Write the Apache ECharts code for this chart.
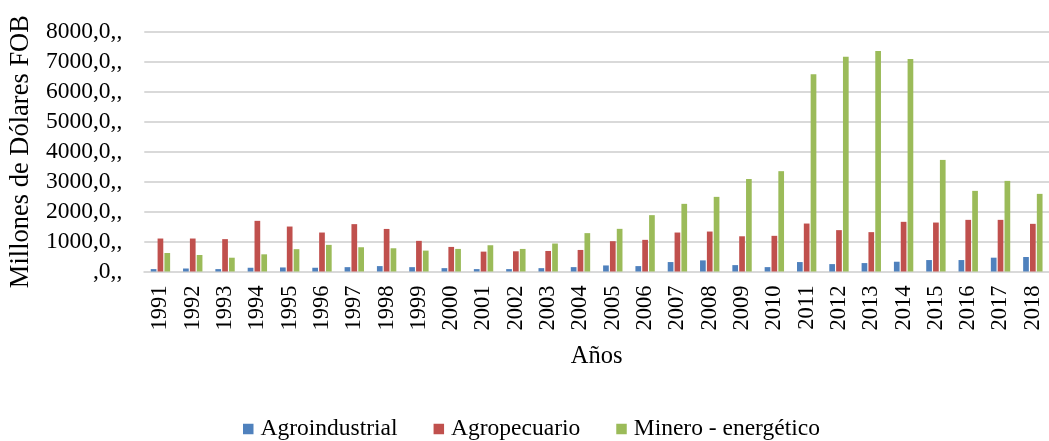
<!DOCTYPE html>
<html>
<head>
<meta charset="utf-8">
<script src="https://cdn.jsdelivr.net/npm/echarts@6/dist/echarts.min.js"></script>
<style>
  html, body { margin: 0; padding: 0; background: #fff; }
  #chart { width: 1049px; height: 441px; }
</style>
</head>
<body>
<div id="chart"></div>
<script>
// Exportaciones por sector, millones de dólares FOB
const years = ['1991', '1992', '1993', '1994', '1995', '1996', '1997', '1998', '1999', '2000',
  '2001', '2002', '2003', '2004', '2005', '2006', '2007', '2008', '2009', '2010',
  '2011', '2012', '2013', '2014', '2015', '2016', '2017', '2018']
const agroindustrial = [80, 100, 80, 125, 135, 125, 145, 180, 145, 112,
  80, 80, 112, 146, 202, 180, 315, 371, 213, 146,
  315, 247, 281, 326, 382, 382, 461, 483]
const agropecuario = [1100, 1100, 1080, 1690, 1500, 1300, 1580, 1420, 1022, 820,
  663, 674, 685, 719, 1011, 1056, 1300, 1333, 1175, 1190,
  1600, 1380, 1313, 1657, 1633, 1723, 1723, 1590]
const mineroEnergetico = [618, 550, 460, 573, 745, 888, 809, 775, 697, 753,
  876, 753, 933, 1280, 1423, 1880, 2257, 2490, 3085, 3347,
  6580, 7167, 7357, 7090, 3723, 2690, 3023, 2590]
const seriesNames = ['Agroindustrial', 'Agropecuario', 'Minero - energético']
const colors = ['#4f81bd', '#c0504d', '#9bbb59']

const font = "'Liberation Serif', 'Times New Roman', serif"
const chart = echarts.init(document.getElementById('chart'))

const bar = (name, data, color) => ({
  name,
  type: 'bar',
  data,
  barWidth: 5.7,
  barGap: '20%',
  itemStyle: { color },
})

chart.setOption({
  animation: false,
  textStyle: { fontFamily: font },
  grid: { left: 142.7, right: -5, top: 31.7, bottom: 169.5, containLabel: false },
  legend: {
    data: seriesNames,
    bottom: -5,
    left: 238,
    itemWidth: 10.5,
    itemHeight: 10.5,
    itemGap: 36,
    icon: 'rect',
    textStyle: { fontFamily: font, fontSize: 23.5, color: '#000', padding: [0, 0, 0, 2] },
  },
  xAxis: {
    type: 'category',
    data: years,
    name: 'Años',
    nameLocation: 'middle',
    nameGap: 73,
    nameTextStyle: { fontFamily: font, fontSize: 24.5, color: '#000' },
    axisLine: { lineStyle: { color: '#d9d9d9', width: 2 } },
    axisTick: { show: false },
    axisLabel: { rotate: 90, fontSize: 22.5, color: '#000', margin: 14, fontFamily: font, interval: 0 },
  },
  yAxis: {
    type: 'value',
    min: 0,
    max: 8000,
    interval: 1000,
    name: 'Millones de Dólares FOB',
    nameLocation: 'middle',
    nameGap: 107,
    nameTextStyle: { fontFamily: font, fontSize: 26.5, color: '#000' },
    axisLine: { show: false },
    axisTick: { show: false },
    splitLine: { lineStyle: { color: '#d9d9d9', width: 2 } },
    axisLabel: {
      fontSize: 23.5,
      color: '#000',
      margin: 22,
      fontFamily: font,
      formatter: (v) => (v === 0 ? '' : v) + ',0,,',
    },
  },
  series: [
    bar(seriesNames[0], agroindustrial, colors[0]),
    bar(seriesNames[1], agropecuario, colors[1]),
    bar(seriesNames[2], mineroEnergetico, colors[2]),
  ],
})
</script>
</body>
</html>
